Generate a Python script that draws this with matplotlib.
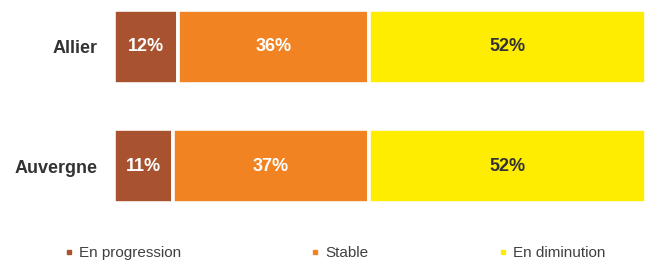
import matplotlib.pyplot as plt
from matplotlib.lines import Line2D

# data
regions = ["Allier", "Auvergne"]
series = ["En progression", "Stable", "En diminution"]
progression = [12, 11]
stable = [36, 37]
diminution = [52, 52]
colors = ["#A8522F", "#F28323", "#FFED00"]
label_colors = ["white", "white", "#333333"]

plt.rcParams["font.family"] = ["Liberation Sans", "DejaVu Sans"]

fig = plt.figure(figsize=(6.46, 2.62), dpi=100)
ax = fig.add_axes([114 / 646, 1 - 202 / 262, 1 - 114 / 646, 191 / 262])

values = [progression, stable, diminution]
ypos = list(range(len(regions)))
left = [0] * len(regions)
for vals, col, tcol in zip(values, colors, label_colors):
    bars = ax.barh(ypos, vals, left=left, height=0.62, color=col,
                   edgecolor="white", linewidth=2.6)
    for b, v in zip(bars, vals):
        ax.text(b.get_x() + b.get_width() / 2, b.get_y() + b.get_height() / 2,
                f"{v}%", ha="center", va="center", color=tcol,
                fontsize=13, fontweight="bold")
    left = [l + v for l, v in zip(left, vals)]

ax.set_xlim(0, 100)
ax.set_ylim(1.3, -0.3)
ax.set_yticks(ypos)
ax.set_yticklabels(regions, fontsize=13, fontweight="bold", color="#333333")
ax.tick_params(axis="y", length=0, pad=12)
ax.set_xticks([])
for s in ax.spines.values():
    s.set_visible(False)

handles = [Line2D([], [], linestyle="none", marker="s", markersize=3.5,
                  markerfacecolor=c, markeredgecolor=c) for c in colors]
fig.legend(handles, series, loc="center", ncol=3,
           bbox_to_anchor=(334 / 646, 1 - 253 / 262), frameon=False,
           fontsize=11, labelcolor="#404040", columnspacing=8.4,
           handletextpad=0.25, handlelength=0.8, borderpad=0)

fig.savefig("out.png", dpi=100)
